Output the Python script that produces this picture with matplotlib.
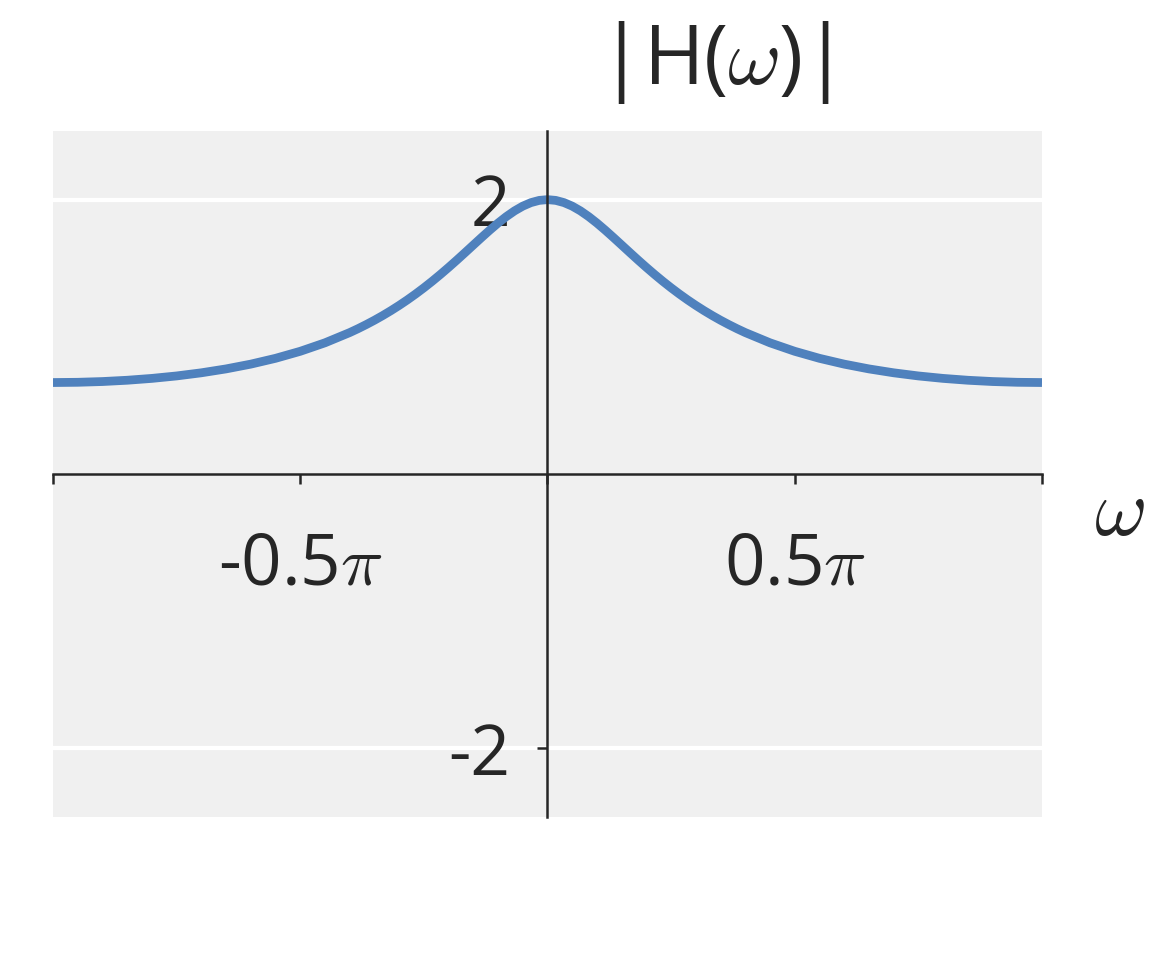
import numpy as np
import matplotlib
matplotlib.use('Agg')
import matplotlib.pyplot as plt

# |H(w)| for w >= 0 (the curve is symmetric about 0)
# w in units of pi
w_half = [0.0, 1/60, 2/60, 3/60, 4/60, 5/60, 6/60, 7/60, 8/60, 9/60, 10/60,
          11/60, 12/60, 13/60, 14/60, 15/60, 16/60, 17/60, 18/60, 19/60,
          20/60, 21/60, 22/60, 23/60, 24/60,
          0.45, 0.50, 0.55, 0.60, 0.65, 0.70, 0.75, 0.80, 0.85, 0.90, 0.95, 1.0]
h_half = [2.0, 1.9945, 1.9784, 1.9525, 1.9180, 1.8762, 1.8290, 1.7778,
          1.7240, 1.6690, 1.6138, 1.5592, 1.5059, 1.4543, 1.4046, 1.3572,
          1.3121, 1.2693, 1.2289, 1.1907, 1.1547, 1.1208, 1.0890, 1.0590,
          1.0309,
          0.9563, 0.8944, 0.8432, 0.8009, 0.7661, 0.7377, 0.7148, 0.6969,
          0.6834, 0.6740, 0.6685, 0.6667]

xtick_pos = [-1.0, -0.5, 0.0, 0.5, 1.0]
xtick_labels = ['', r'-0.5$\pi$', '', r'0.5$\pi$', '']
ytick_pos = [-2, 2]
ytick_labels = ['-2', '2']

plt.rcParams['font.family'] = ['Open Sans', 'DejaVu Sans']
plt.rcParams['mathtext.fontset'] = 'cm'

w = np.pi * np.array([-x for x in w_half[::-1]] + w_half[1:])
h = np.array(h_half[::-1] + h_half[1:])

fig = plt.figure(figsize=(11.52, 9.6), dpi=100)
ax = fig.add_axes([0.046, 0.149, 0.8585, 0.7145])
ax.set_facecolor('#f0f0f0')

for yv in ytick_pos:
    ax.axhline(yv, color='white', lw=3, zorder=1)

ax.plot(w, h, color='#4f81bd', lw=6.3, zorder=3, solid_capstyle='butt',
        solid_joinstyle='round')

ax.set_xlim(-np.pi, np.pi)
ax.set_ylim(-2.5, 2.5)

for s in ['top', 'right']:
    ax.spines[s].set_visible(False)
ax.spines['left'].set_position(('data', 0))
ax.spines['bottom'].set_position(('data', 0))
for s in ['left', 'bottom']:
    ax.spines[s].set_color('#262626')
    ax.spines[s].set_linewidth(1.8)
    ax.spines[s].set_zorder(4)

ax.set_xticks(np.pi * np.array(xtick_pos))
ax.set_xticklabels(xtick_labels)
ax.set_yticks(ytick_pos)
ax.set_yticklabels(ytick_labels)
ax.tick_params(axis='x', direction='out', length=7, width=1.8, color='#262626',
               labelsize=51, labelcolor='#262626', pad=33)
ax.tick_params(axis='y', direction='out', length=7, width=1.8, color='#262626',
               labelsize=50, labelcolor='#262626', pad=20)

fig.text(714 / 1152, 1 - 62 / 960, r'|H($\omega$)|', fontsize=59,
         color='#262626', ha='center', va='center')
fig.text(1119 / 1152, 1 - 514 / 960, r'$\omega$', fontsize=58,
         color='#262626', ha='center', va='center')

fig.savefig('out.png', dpi=100)
